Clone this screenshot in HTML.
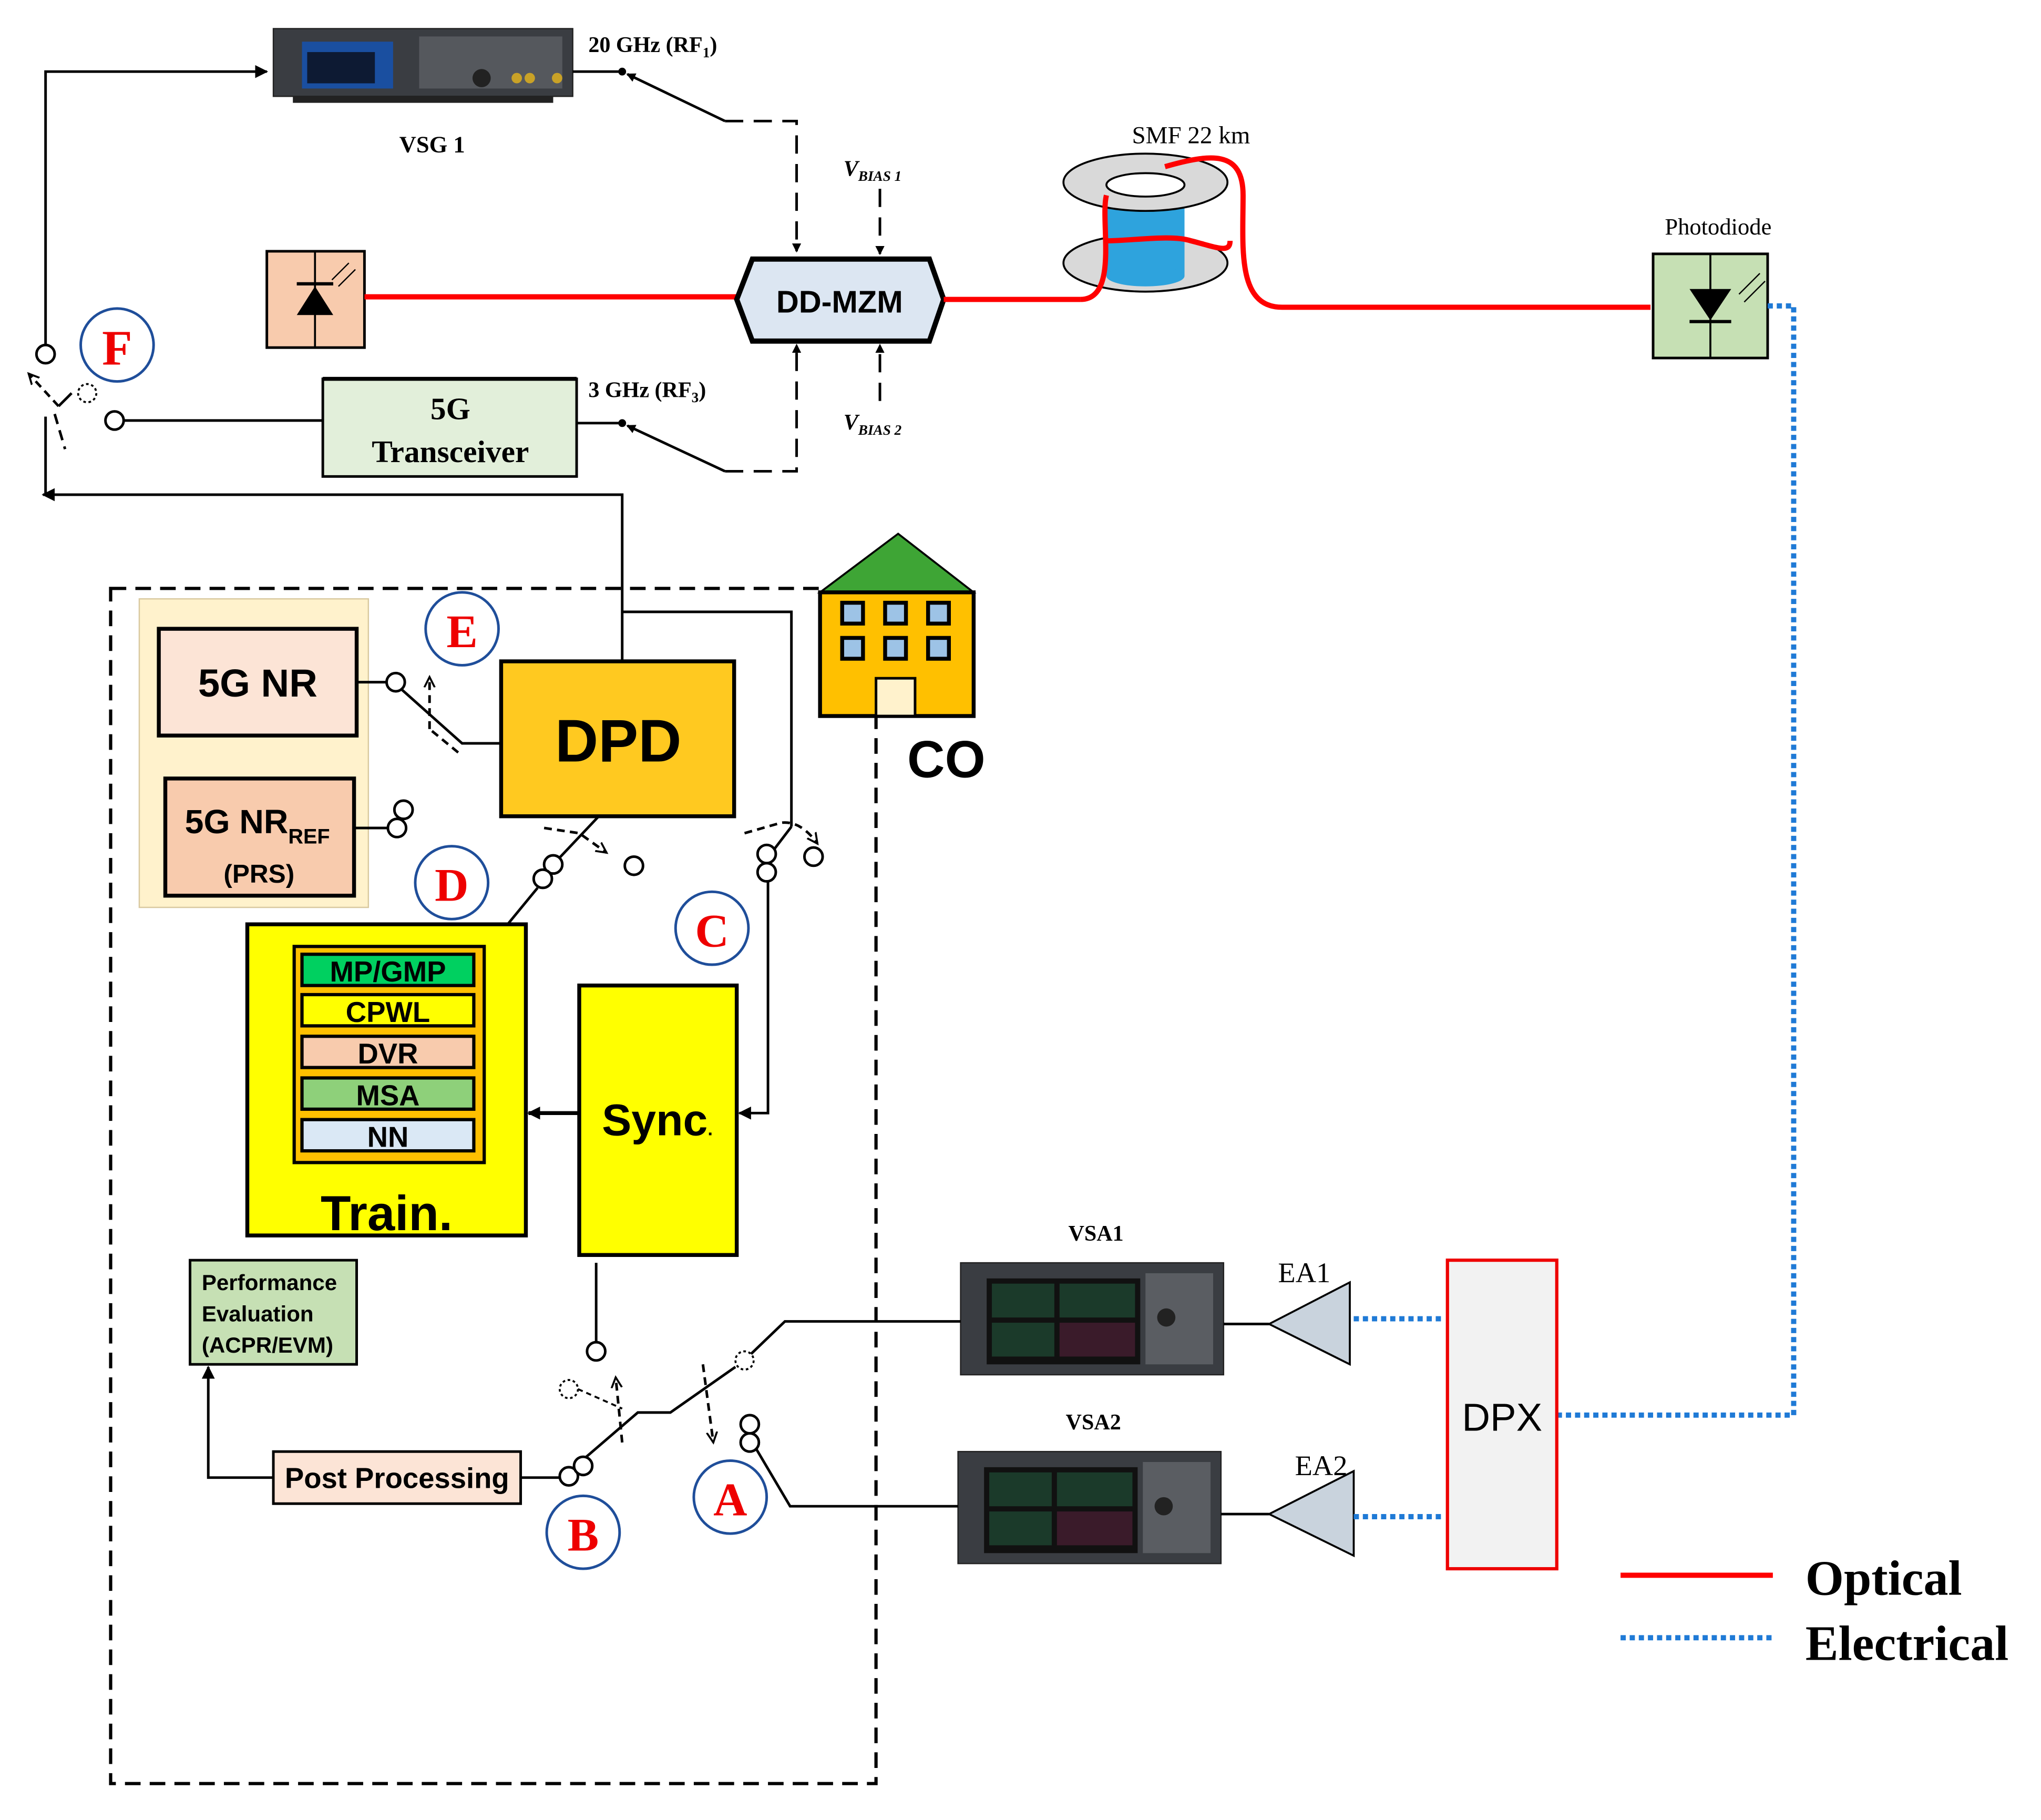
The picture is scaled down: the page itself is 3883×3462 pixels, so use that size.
<!DOCTYPE html>
<html><head><meta charset="utf-8"><style>
html,body{margin:0;padding:0;background:#fff;}
svg{display:block;}
.s{font-family:"Liberation Sans",sans-serif;}
.r{font-family:"Liberation Serif",serif;}
</style></head><body>
<svg width="3883" height="3462" viewBox="0 0 1568 1398" xmlns="http://www.w3.org/2000/svg">
<defs>
<marker id="ar" markerWidth="10" markerHeight="10" refX="9" refY="5" orient="auto" markerUnits="userSpaceOnUse"><path d="M0,0 L10,5 L0,10 z" fill="#000"/></marker>
<marker id="as" markerWidth="7" markerHeight="7" refX="6" refY="3.5" orient="auto" markerUnits="userSpaceOnUse"><path d="M0,0 L7,3.5 L0,7 z" fill="#000"/></marker>
<marker id="ao" markerWidth="10" markerHeight="10" refX="8" refY="5" orient="auto" markerUnits="userSpaceOnUse"><path d="M0,1 L8,5 L0,9" fill="none" stroke="#000" stroke-width="1.5"/></marker>
</defs>
<rect width="1568" height="1398" fill="#fff"/>

<!-- VSG1 -->
<rect x="210" y="22" width="230" height="52" fill="#3a3d42" stroke="#222"/>
<rect x="232" y="32" width="70" height="36" fill="#1a4fa0"/>
<rect x="236" y="40" width="52" height="24" fill="#0d1a33"/>
<rect x="322" y="28" width="110" height="40" fill="#55585d"/>
<circle cx="370" cy="60" r="7" fill="#222"/>
<circle cx="397" cy="60" r="4" fill="#c9a227"/><circle cx="407" cy="60" r="4" fill="#c9a227"/><circle cx="428" cy="60" r="4" fill="#c9a227"/>
<rect x="225" y="74" width="200" height="5" fill="#222"/>
<text x="332" y="117" class="r" font-size="18" font-weight="bold" text-anchor="middle">VSG 1</text>
<text x="452" y="40" class="r" font-size="17" font-weight="bold">20 GHz (RF<tspan font-size="11" dy="4">1</tspan><tspan dy="-4">)</tspan></text>
<polyline points="35,270 35,55 205,55" fill="none" stroke="#000" stroke-width="2" marker-end="url(#ar)"/>
<line x1="440" y1="55" x2="478" y2="55" stroke="#000" stroke-width="2"/>
<circle cx="478" cy="55" r="3"/>
<line x1="557" y1="93" x2="482" y2="57" stroke="#000" stroke-width="2" marker-end="url(#as)"/>
<polyline points="557,93 612,93 612,193" fill="none" stroke="#000" stroke-width="2" stroke-dasharray="14,8" marker-end="url(#as)"/>
<text x="648" y="135" class="r" font-size="17" font-style="italic" font-weight="bold">V<tspan font-size="11" dy="4">BIAS 1</tspan></text>
<line x1="676" y1="145" x2="676" y2="195" stroke="#000" stroke-width="2" stroke-dasharray="14,8" marker-end="url(#as)"/>

<!-- laser -->
<rect x="205" y="193" width="75" height="74" fill="#f8cbad" stroke="#000" stroke-width="2"/>
<line x1="242" y1="193" x2="242" y2="267" stroke="#000" stroke-width="1.5"/>
<path d="M228,242 L256,242 L242,220 z" fill="#000"/>
<line x1="228" y1="218" x2="256" y2="218" stroke="#000" stroke-width="2.5"/>
<line x1="255" y1="215" x2="268" y2="202" stroke="#000" stroke-width="1"/><line x1="260" y1="220" x2="273" y2="207" stroke="#000" stroke-width="1"/>
<line x1="280" y1="228" x2="566" y2="228" stroke="#f00" stroke-width="4"/>

<!-- DD-MZM -->
<polygon points="578,199 714,199 725,230 714,262 578,262 566,230" fill="#dce6f2" stroke="#000" stroke-width="4"/>
<text x="645" y="240" class="s" font-size="24" font-weight="bold" text-anchor="middle">DD-MZM</text>

<!-- RF3 -->
<rect x="248" y="291" width="195" height="75" fill="#e2efda" stroke="#000" stroke-width="2"/>
<line x1="248" y1="291" x2="443" y2="291" stroke="#000" stroke-width="3"/>
<text x="346" y="322" class="r" font-size="24" font-weight="bold" text-anchor="middle">5G</text>
<text x="346" y="355" class="r" font-size="24" font-weight="bold" text-anchor="middle">Transceiver</text>
<text x="452" y="305" class="r" font-size="17" font-weight="bold">3 GHz (RF<tspan font-size="11" dy="4">3</tspan><tspan dy="-4">)</tspan></text>
<line x1="443" y1="325" x2="478" y2="325" stroke="#000" stroke-width="2"/>
<circle cx="478" cy="325" r="3"/>
<line x1="557" y1="362" x2="482" y2="327" stroke="#000" stroke-width="2" marker-end="url(#as)"/>
<polyline points="557,362 612,362 612,265" fill="none" stroke="#000" stroke-width="2" stroke-dasharray="14,8" marker-end="url(#as)"/>
<text x="648" y="330" class="r" font-size="17" font-style="italic" font-weight="bold">V<tspan font-size="11" dy="4">BIAS 2</tspan></text>
<line x1="676" y1="308" x2="676" y2="265" stroke="#000" stroke-width="2" stroke-dasharray="14,8" marker-end="url(#as)"/>

<!-- F switch -->
<circle cx="90" cy="265" r="28" fill="none" stroke="#1f4e9a" stroke-width="2"/>
<text x="90" y="280" class="r" font-size="38" font-weight="bold" fill="#e00" text-anchor="middle">F</text>
<circle cx="35" cy="272" r="7" fill="#fff" stroke="#000" stroke-width="2"/>
<circle cx="67" cy="302" r="7" fill="#fff" stroke="#000" stroke-width="1.5" stroke-dasharray="2,2"/>
<circle cx="88" cy="323" r="7" fill="#fff" stroke="#000" stroke-width="2"/>
<line x1="95" y1="323" x2="248" y2="323" stroke="#000" stroke-width="2"/>
<line x1="45" y1="312" x2="22" y2="287" stroke="#000" stroke-width="2" stroke-dasharray="6,4" marker-end="url(#ao)"/>
<line x1="45" y1="312" x2="55" y2="302" stroke="#000" stroke-width="2"/>
<line x1="42" y1="318" x2="50" y2="345" stroke="#000" stroke-width="2" stroke-dasharray="8,5"/>
<polyline points="478,508 478,380 33,380" fill="none" stroke="#000" stroke-width="2" marker-end="url(#ar)"/>
<line x1="35" y1="380" x2="35" y2="320" stroke="#000" stroke-width="2"/>

<!-- fiber -->
<line x1="725" y1="230" x2="830" y2="230" stroke="#f00" stroke-width="4"/>
<ellipse cx="880" cy="202" rx="63" ry="22" fill="#d9d9d9" stroke="#000" stroke-width="1.5"/>
<rect x="850" y="140" width="60" height="72" fill="#2ea3dd"/>
<ellipse cx="880" cy="212" rx="30" ry="8" fill="#2ea3dd"/>
<ellipse cx="880" cy="140" rx="63" ry="22" fill="#d9d9d9" stroke="#000" stroke-width="1.5"/>
<ellipse cx="880" cy="142" rx="30" ry="9" fill="#fff" stroke="#000" stroke-width="1.5"/>
<path d="M830,230 C860,230 845,170 850,150 M850,185 C870,185 900,180 915,185 C935,190 945,195 945,185 M895,128 C930,118 955,115 955,150 C955,190 950,236 985,236 L1268,236" fill="none" stroke="#f00" stroke-width="4"/>
<text x="915" y="110" class="r" font-size="19" text-anchor="middle">SMF 22 km</text>

<!-- photodiode -->
<text x="1320" y="180" class="r" font-size="18" text-anchor="middle">Photodiode</text>
<rect x="1270" y="195" width="88" height="80" fill="#c6e0b4" stroke="#000" stroke-width="2"/>
<line x1="1314" y1="195" x2="1314" y2="275" stroke="#000" stroke-width="1.5"/>
<path d="M1298,222 L1330,222 L1314,246 z" fill="#000"/>
<line x1="1298" y1="247" x2="1330" y2="247" stroke="#000" stroke-width="2.5"/>
<line x1="1352" y1="210" x2="1336" y2="226" stroke="#000" stroke-width="1"/><line x1="1356" y1="216" x2="1340" y2="232" stroke="#000" stroke-width="1"/>
<polyline points="1358,235 1378,235 1378,1087 1197,1087" fill="none" stroke="#1f7ad6" stroke-width="4" stroke-dasharray="4,3"/>

<!-- DPX -->
<rect x="1112" y="968" width="84" height="237" fill="#f2f2f2" stroke="#e00" stroke-width="2.5"/>
<text x="1154" y="1099" class="s" font-size="30" text-anchor="middle">DPX</text>
<text x="1002" y="985" class="r" font-size="22" text-anchor="middle">EA1</text>
<polygon points="975,1017 1037,985 1037,1048" fill="#c9d3dd" stroke="#000" stroke-width="1.5"/>
<line x1="1040" y1="1013" x2="1110" y2="1013" stroke="#1f7ad6" stroke-width="4" stroke-dasharray="4,3"/>
<text x="1015" y="1133" class="r" font-size="22" text-anchor="middle">EA2</text>
<polygon points="975,1163 1040,1130 1040,1195" fill="#c9d3dd" stroke="#000" stroke-width="1.5"/>
<line x1="1040" y1="1165" x2="1110" y2="1165" stroke="#1f7ad6" stroke-width="4" stroke-dasharray="4,3"/>

<!-- VSAs -->
<text x="842" y="953" class="r" font-size="17" font-weight="bold" text-anchor="middle">VSA1</text>
<rect x="738" y="970" width="202" height="86" fill="#3a3d42" stroke="#222"/>
<rect x="758" y="982" width="118" height="66" fill="#111"/>
<rect x="762" y="986" width="48" height="26" fill="#1b3a2a"/><rect x="814" y="986" width="58" height="26" fill="#1b3a2a"/>
<rect x="762" y="1016" width="48" height="26" fill="#1b3a2a"/><rect x="814" y="1016" width="58" height="26" fill="#3a1b2a"/>
<rect x="880" y="978" width="52" height="70" fill="#5a5d62"/><circle cx="896" cy="1012" r="7" fill="#222"/>
<line x1="940" y1="1017" x2="975" y2="1017" stroke="#000" stroke-width="2"/>
<text x="840" y="1098" class="r" font-size="17" font-weight="bold" text-anchor="middle">VSA2</text>
<rect x="736" y="1115" width="202" height="86" fill="#3a3d42" stroke="#222"/>
<rect x="756" y="1127" width="118" height="66" fill="#111"/>
<rect x="760" y="1131" width="48" height="26" fill="#1b3a2a"/><rect x="812" y="1131" width="58" height="26" fill="#1b3a2a"/>
<rect x="760" y="1161" width="48" height="26" fill="#1b3a2a"/><rect x="812" y="1161" width="58" height="26" fill="#3a1b2a"/>
<rect x="878" y="1123" width="52" height="70" fill="#5a5d62"/><circle cx="894" cy="1157" r="7" fill="#222"/>
<line x1="938" y1="1163" x2="975" y2="1163" stroke="#000" stroke-width="2"/>

<!-- legend -->
<line x1="1245" y1="1210" x2="1362" y2="1210" stroke="#f00" stroke-width="4"/>
<text x="1387" y="1225" class="r" font-size="38" font-weight="bold">Optical</text>
<line x1="1245" y1="1258" x2="1362" y2="1258" stroke="#1f7ad6" stroke-width="4" stroke-dasharray="4,3"/>
<text x="1387" y="1275" class="r" font-size="38" font-weight="bold">Electrical</text>

<!-- CO dashed box -->
<rect x="85" y="452" width="588" height="918" fill="none" stroke="#000" stroke-width="2.5" stroke-dasharray="12,7"/>
<!-- house -->
<polygon points="630,455 690,410 748,455" fill="#3ea535" stroke="#000" stroke-width="1.5"/>
<rect x="630" y="455" width="118" height="95" fill="#ffc000" stroke="#000" stroke-width="3"/>
<g fill="#9dc3e6" stroke="#000" stroke-width="3">
<rect x="647" y="463" width="16" height="16"/><rect x="680" y="463" width="16" height="16"/><rect x="713" y="463" width="16" height="16"/>
<rect x="647" y="490" width="16" height="16"/><rect x="680" y="490" width="16" height="16"/><rect x="713" y="490" width="16" height="16"/>
</g>
<rect x="673" y="521" width="30" height="29" fill="#fff2cc" stroke="#000" stroke-width="2"/>
<text x="727" y="597" class="s" font-size="40" font-weight="bold" text-anchor="middle">CO</text>

<rect x="107" y="460" width="176" height="237" fill="#fff2cc" stroke="#d9c9a0" stroke-width="1"/>
<rect x="122" y="483" width="152" height="82" fill="#fce4d6" stroke="#000" stroke-width="3"/>
<text x="198" y="535" class="s" font-size="30" font-weight="bold" text-anchor="middle">5G NR</text>
<rect x="127" y="598" width="145" height="90" fill="#f8cbad" stroke="#000" stroke-width="3"/>
<text x="142" y="640" class="s" font-size="26" font-weight="bold">5G NR<tspan font-size="16" dy="8">REF</tspan></text>
<text x="199" y="678" class="s" font-size="20" font-weight="bold" text-anchor="middle">(PRS)</text>

<circle cx="355" cy="483" r="28" fill="#fff" stroke="#1f4e9a" stroke-width="2"/>
<text x="355" y="497" class="r" font-size="36" font-weight="bold" fill="#e00" text-anchor="middle">E</text>
<line x1="274" y1="524" x2="297" y2="524" stroke="#000" stroke-width="2"/>
<circle cx="304" cy="524" r="7" fill="#fff" stroke="#000" stroke-width="2"/>
<polyline points="309,530 355,571 385,571" fill="none" stroke="#000" stroke-width="2"/>
<line x1="352" y1="578" x2="330" y2="560" stroke="#000" stroke-width="2" stroke-dasharray="6,4"/>
<line x1="330" y1="560" x2="330" y2="520" stroke="#000" stroke-width="2" stroke-dasharray="6,4" marker-end="url(#ao)"/>
<line x1="272" y1="636" x2="298" y2="636" stroke="#000" stroke-width="2"/>
<circle cx="305" cy="636" r="7" fill="#fff" stroke="#000" stroke-width="2"/>
<circle cx="310" cy="622" r="7" fill="#fff" stroke="#000" stroke-width="2"/>

<rect x="385" y="508" width="179" height="119" fill="#ffc920" stroke="#000" stroke-width="3"/>
<text x="475" y="585" class="s" font-size="46" font-weight="bold" text-anchor="middle">DPD</text>

<polyline points="478,470 608,470 608,635" fill="none" stroke="#000" stroke-width="2"/>
<line x1="608" y1="635" x2="592" y2="656" stroke="#000" stroke-width="2"/>
<circle cx="589" cy="656" r="7" fill="#fff" stroke="#000" stroke-width="2"/>
<circle cx="589" cy="670" r="7" fill="#fff" stroke="#000" stroke-width="2"/>
<circle cx="625" cy="658" r="7" fill="#fff" stroke="#000" stroke-width="2"/>
<path d="M572,640 L600,632 Q615,630 628,648" fill="none" stroke="#000" stroke-width="2" stroke-dasharray="6,4" marker-end="url(#ao)"/>
<polyline points="590,677 590,855 568,855" fill="none" stroke="#000" stroke-width="2" marker-end="url(#ar)"/>

<line x1="460" y1="627" x2="425" y2="664" stroke="#000" stroke-width="2"/>
<circle cx="425" cy="664" r="7" fill="#fff" stroke="#000" stroke-width="2"/>
<circle cx="417" cy="675" r="7" fill="#fff" stroke="#000" stroke-width="2"/>
<circle cx="487" cy="665" r="7" fill="#fff" stroke="#000" stroke-width="2"/>
<line x1="413" y1="682" x2="390" y2="710" stroke="#000" stroke-width="2"/>
<path d="M418,636 L445,640 L466,655" fill="none" stroke="#000" stroke-width="2" stroke-dasharray="6,4" marker-end="url(#ao)"/>

<circle cx="347" cy="678" r="28" fill="#fff" stroke="#1f4e9a" stroke-width="2"/>
<text x="347" y="692" class="r" font-size="36" font-weight="bold" fill="#e00" text-anchor="middle">D</text>
<circle cx="547" cy="713" r="28" fill="#fff" stroke="#1f4e9a" stroke-width="2"/>
<text x="547" y="727" class="r" font-size="36" font-weight="bold" fill="#e00" text-anchor="middle">C</text>

<!-- Train -->
<rect x="190" y="710" width="214" height="239" fill="#ffff00" stroke="#000" stroke-width="3"/>
<rect x="226" y="727" width="146" height="166" fill="#ffc000" stroke="#000" stroke-width="2.5"/>
<g stroke="#000" stroke-width="2.5" class="s" font-size="22" font-weight="bold" text-anchor="middle">
<rect x="232" y="733" width="132" height="24" fill="#00d060"/>
<rect x="232" y="764" width="132" height="24" fill="#ffff00"/>
<rect x="232" y="796" width="132" height="24" fill="#f8cbad"/>
<rect x="232" y="828" width="132" height="24" fill="#8ed07a"/>
<rect x="232" y="860" width="132" height="24" fill="#dae8f5"/>
</g>
<g class="s" font-size="22" font-weight="bold" text-anchor="middle">
<text x="298" y="754">MP/GMP</text><text x="298" y="785">CPWL</text><text x="298" y="817">DVR</text><text x="298" y="849">MSA</text><text x="298" y="881">NN</text>
</g>
<text x="297" y="945" class="s" font-size="38" font-weight="bold" text-anchor="middle">Train.</text>

<rect x="445" y="757" width="121" height="207" fill="#ffff00" stroke="#000" stroke-width="3"/>
<text x="505" y="872" class="s" font-size="34" font-weight="bold" text-anchor="middle">Sync<tspan font-size="14">.</tspan></text>
<line x1="445" y1="855" x2="406" y2="855" stroke="#000" stroke-width="3" marker-end="url(#ar)"/>

<!-- bottom switches -->
<line x1="458" y1="970" x2="458" y2="1032" stroke="#000" stroke-width="2"/>
<circle cx="458" cy="1038" r="7" fill="#fff" stroke="#000" stroke-width="2"/>
<circle cx="437" cy="1067" r="7" fill="#fff" stroke="#000" stroke-width="1.5" stroke-dasharray="2,2"/>
<line x1="444" y1="1067" x2="478" y2="1082" stroke="#000" stroke-width="1.5" stroke-dasharray="4,3"/>
<line x1="478" y1="1108" x2="473" y2="1058" stroke="#000" stroke-width="2" stroke-dasharray="6,4" marker-end="url(#ao)"/>
<polyline points="440,1128 490,1085 515,1085 565,1050" fill="none" stroke="#000" stroke-width="2"/>
<circle cx="572" cy="1045" r="7" fill="#fff" stroke="#000" stroke-width="1.5" stroke-dasharray="2,2"/>
<line x1="540" y1="1048" x2="548" y2="1108" stroke="#000" stroke-width="2" stroke-dasharray="6,4" marker-end="url(#ao)"/>
<circle cx="576" cy="1094" r="7" fill="#fff" stroke="#000" stroke-width="2"/>
<circle cx="576" cy="1108" r="7" fill="#fff" stroke="#000" stroke-width="2"/>
<polyline points="577,1040 603,1015 738,1015" fill="none" stroke="#000" stroke-width="2"/>
<polyline points="581,1113 607,1157 736,1157" fill="none" stroke="#000" stroke-width="2"/>
<circle cx="437" cy="1134" r="7" fill="#fff" stroke="#000" stroke-width="2"/>
<circle cx="448" cy="1126" r="7" fill="#fff" stroke="#000" stroke-width="2"/>

<circle cx="448" cy="1177" r="28" fill="#fff" stroke="#1f4e9a" stroke-width="2"/>
<text x="448" y="1191" class="r" font-size="36" font-weight="bold" fill="#e00" text-anchor="middle">B</text>
<circle cx="561" cy="1150" r="28" fill="#fff" stroke="#1f4e9a" stroke-width="2"/>
<text x="561" y="1164" class="r" font-size="36" font-weight="bold" fill="#e00" text-anchor="middle">A</text>

<rect x="210" y="1115" width="190" height="40" fill="#fce4d6" stroke="#000" stroke-width="2"/>
<text x="305" y="1143" class="s" font-size="22" font-weight="bold" text-anchor="middle">Post Processing</text>
<line x1="400" y1="1135" x2="430" y2="1135" stroke="#000" stroke-width="2"/>
<polyline points="210,1135 160,1135 160,1050" fill="none" stroke="#000" stroke-width="2" marker-end="url(#ar)"/>
<rect x="146" y="968" width="128" height="80" fill="#c6e0b4" stroke="#000" stroke-width="2"/>
<g class="s" font-size="17" font-weight="bold">
<text x="155" y="991">Performance</text><text x="155" y="1015">Evaluation</text><text x="155" y="1039">(ACPR/EVM)</text>
</g>
</svg>
</body></html>
